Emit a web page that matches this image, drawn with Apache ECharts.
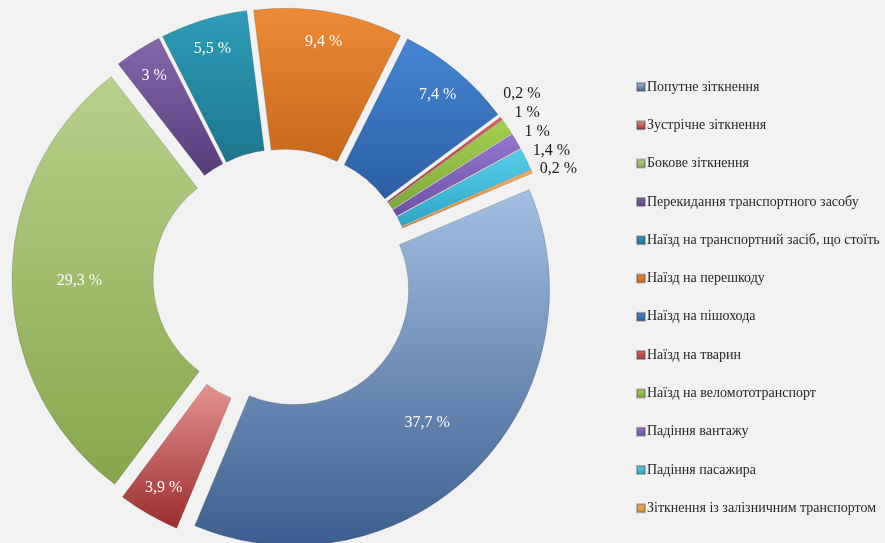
<!DOCTYPE html>
<html>
<head>
<meta charset="utf-8">
<script src="https://cdn.jsdelivr.net/npm/echarts@6/dist/echarts.min.js"></script>
<style>
html,body{margin:0;padding:0;background:#f2f2f2;}
#chart{width:885px;height:543px;}
</style>
</head>
<body>
<div id="chart"></div>
<script>
const categories = [
  'Попутне зіткнення',
  'Зустрічне зіткнення',
  'Бокове зіткнення',
  'Перекидання транспортного засобу',
  'Наїзд на транспортний засіб, що стоїть',
  'Наїзд на перешкоду',
  'Наїзд на пішохода',
  'Наїзд на тварин',
  'Наїзд на веломототранспорт',
  'Падіння вантажу',
  'Падіння пасажира',
  'Зіткнення із залізничним транспортом'
];
const shares = [37.7, 3.9, 29.3, 3, 5.5, 9.4, 7.4, 0.2, 1, 1, 1.4, 0.2];

const topColors = ['#a3bfe3', '#e4928f', '#b8d18b', '#8467ab', '#2f9cb8', '#ec8a36', '#4686d4', '#d9605c', '#a3d04e', '#9677cf', '#55cdea', '#f5ad5a'];
const bottomColors = ['#3b5f90', '#9a2e2c', '#86a64a', '#573c7c', '#1c778e', '#c8681a', '#2b5fa3', '#a83a36', '#7ea93a', '#6e4fa6', '#2ea6c6', '#d98a2c'];

function grad(i) {
  return {
    type: 'linear', x: 0, y: 0, x2: 0, y2: 1,
    colorStops: [{ offset: 0, color: topColors[i] }, { offset: 1, color: bottomColors[i] }]
  };
}
function fmt(p) { return String(p.value).replace('.', ',') + ' %'; }

const serif = '"Liberation Serif", "DejaVu Serif", serif';

const mainData = categories.map((name, i) => {
  const v = shares[i];
  let label;
  if (v < 2) {
    label = { show: true, position: 'outside', color: '#1a1a1a', fontSize: 16, lineHeight: 16, fontFamily: serif };
  } else if (v >= 20) {
    label = { show: true, position: 'inside', color: '#ffffff', fontSize: 16, fontFamily: serif };
  } else {
    label = { show: false };
  }
  return { name, value: v, selected: true, itemStyle: { color: grad(i) }, label };
});

const overlayData = categories.map((name, i) => {
  const v = shares[i];
  return {
    name, value: v, selected: true,
    label: { show: v >= 2 && v < 20 }
  };
});

const chart = echarts.init(document.getElementById('chart'), null, { renderer: 'canvas' });
chart.setOption({
  backgroundColor: '#f2f2f2',
  animation: false,
  legend: {
    orient: 'vertical',
    left: 636,
    top: 79,
    padding: 0,
    itemWidth: 8,
    itemHeight: 8,
    itemGap: 22.3,
    icon: 'rect',
    selectedMode: false,
    data: categories,
    textStyle: { fontFamily: serif, fontSize: 14, color: '#262626', lineHeight: 16, padding: [0, 0, 0, -3] }
  },
  series: [
    {
      type: 'pie',
      center: [283, 279],
      radius: [115, 256],
      startAngle: 23,
      clockwise: true,
      selectedMode: 'multiple',
      selectedOffset: 15,
      avoidLabelOverlap: true,
      itemStyle: { borderColor: 'rgba(60,60,60,0.35)', borderWidth: 0.6 },
      select: { itemStyle: { borderColor: 'rgba(60,60,60,0.35)', borderWidth: 0.6 } },
      emphasis: { disabled: true },
      label: { formatter: fmt },
      labelLine: { show: false, length: 26, length2: 0 },
      labelLayout: function (p) {
        return shares[p.dataIndex] < 2 ? { dx: -24, dy: -9 } : {};
      },
      data: mainData
    },
    {
      type: 'pie',
      silent: true,
      center: [283, 279],
      radius: [189, 256],
      startAngle: 23,
      clockwise: true,
      selectedMode: 'multiple',
      selectedOffset: 15,
      itemStyle: { color: 'rgba(0,0,0,0)', borderWidth: 0 },
      select: { itemStyle: { color: 'rgba(0,0,0,0)', borderWidth: 0 } },
      emphasis: { disabled: true },
      label: { position: 'inside', formatter: fmt, color: '#ffffff', fontSize: 16, fontFamily: serif },
      labelLine: { show: false },
      data: overlayData
    }
  ]
});
</script>
</body>
</html>
